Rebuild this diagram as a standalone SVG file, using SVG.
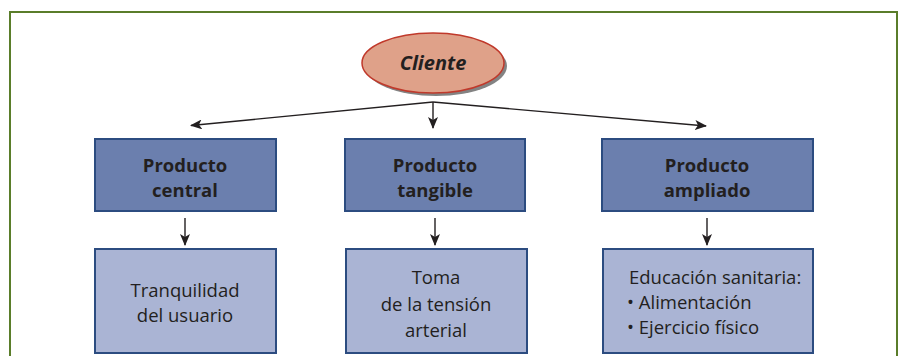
<svg xmlns="http://www.w3.org/2000/svg" width="904" height="356" viewBox="0 0 904 356">
<style>
.frame{fill:none;stroke:#5a7d2a;stroke-width:2}
.top{fill:#6b7fae;stroke:#2c4c80;stroke-width:2}
.bot{fill:#aab4d4;stroke:#2c4c80;stroke-width:2}
.hd{font-family:"Open Sans","Liberation Sans",sans-serif;font-weight:bold;font-size:18.5px;fill:#231f20;text-anchor:middle}
.bd{font-family:"Open Sans","Liberation Sans",sans-serif;font-size:18.5px;fill:#231f20}
.mid{text-anchor:middle}
.con{fill:none;stroke:#231f20;stroke-width:1.4}
</style>
<defs>
<marker id="ah" viewBox="0 0 12 10" refX="11" refY="5" markerWidth="12" markerHeight="10" markerUnits="userSpaceOnUse" orient="auto">
<path d="M0,0 L12,5 L0,10 L3,5 Z" fill="#231f20"/>
</marker>
</defs>
<rect width="904" height="356" fill="#ffffff"/>
<path class="frame" d="M10,360 L10,12 L897,12 L897,360"/>
<g id="cliente">
<ellipse cx="436" cy="66" rx="71" ry="30" fill="#5a5a5a" opacity="0.75"/>
<ellipse cx="433" cy="63" rx="71" ry="30" fill="#dfa189" stroke="#c0392b" stroke-width="1.5"/>
<text x="433" y="70" style="font-family:'Open Sans','Liberation Sans',sans-serif;font-weight:bold;font-style:italic;font-size:20px;fill:#231f20;text-anchor:middle">Cliente</text>
</g>
<g id="connectors">
<line class="con" x1="433" y1="102" x2="191" y2="125.5" marker-end="url(#ah)"/>
<line class="con" x1="433" y1="102" x2="433" y2="128" marker-end="url(#ah)"/>
<line class="con" x1="433" y1="102" x2="706" y2="126" marker-end="url(#ah)"/>
<line class="con" x1="185" y1="218" x2="185" y2="245" marker-end="url(#ah)"/>
<line class="con" x1="435" y1="218" x2="435" y2="245" marker-end="url(#ah)"/>
<line class="con" x1="707" y1="218" x2="707" y2="245" marker-end="url(#ah)"/>
</g>
<g id="producto-central">
<rect class="top" x="95" y="139" width="181" height="72"/>
<text class="hd" x="185" y="172">Producto</text>
<text class="hd" x="185" y="197">central</text>
</g>
<g id="producto-tangible">
<rect class="top" x="345" y="139" width="180" height="72"/>
<text class="hd" x="435" y="172">Producto</text>
<text class="hd" x="435" y="197">tangible</text>
</g>
<g id="producto-ampliado">
<rect class="top" x="602" y="139" width="211" height="72"/>
<text class="hd" x="707" y="172">Producto</text>
<text class="hd" x="707" y="197">ampliado</text>
</g>
<g id="tranquilidad">
<rect class="bot" x="95" y="249" width="181" height="104"/>
<text class="bd mid" x="185" y="297">Tranquilidad</text>
<text class="bd mid" x="185" y="322">del usuario</text>
</g>
<g id="toma">
<rect class="bot" x="346" y="249" width="181" height="104"/>
<text class="bd mid" x="436" y="284">Toma</text>
<text class="bd mid" x="436" y="311">de la tensión</text>
<text class="bd mid" x="436" y="337">arterial</text>
</g>
<g id="educacion">
<rect class="bot" x="603" y="249" width="210" height="104"/>
<text class="bd" x="629" y="284">Educación sanitaria:</text>
<text class="bd" x="627" y="309">• Alimentación</text>
<text class="bd" x="627" y="334">• Ejercicio físico</text>
</g>
</svg>
